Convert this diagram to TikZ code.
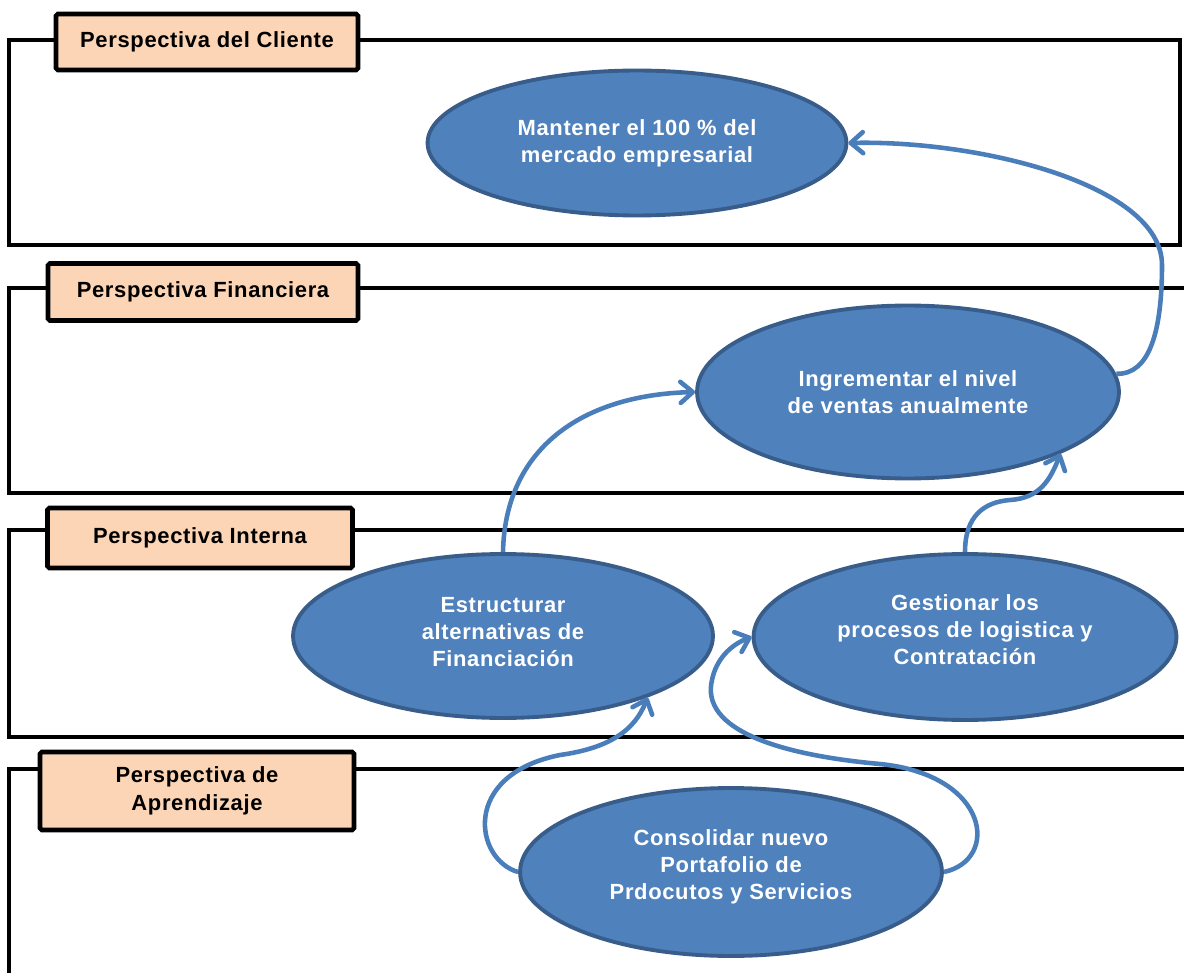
\documentclass[tikz,border=0pt]{standalone}
\usepackage{fontspec}
\setmainfont{Liberation Sans}[LetterSpace=3.0]
\usetikzlibrary{shapes.geometric,arrows.meta}

\definecolor{bscazul}{HTML}{4F81BD}
\definecolor{bscborde}{HTML}{385D8A}
\definecolor{bscflecha}{HTML}{4A7EBB}
\definecolor{bscmelon}{HTML}{FBD5B5}

\tikzset{
  marco/.style={line width=2.8pt},
  etiqueta/.style={draw=black,line width=2.6pt,fill=bscmelon,rounded corners=1pt,
    align=center,inner sep=0pt,font=\fontsize{12.5}{15.6}\selectfont\bfseries},
  objetivo/.style={ellipse,draw=bscborde,line width=2.2pt,fill=bscazul,text=white,
    align=center,inner sep=0pt,font=\fontsize{12.5}{15.4}\selectfont\bfseries},
  flujo/.style={bscflecha,line width=2.6pt,->,
    >={Straight Barb[length=7pt,width=12pt,round]}}
}

\begin{document}
\begin{tikzpicture}[x=0.02cm,y=-0.02cm]

  \useasboundingbox (0,0) rectangle (1184,973);
  \clip (0,0) rectangle (1184,973);

  % marcos
  \draw[marco] (9,40) rectangle (1180,245);
  \draw[marco] (1200,288) -- (9,288) -- (9,493) -- (1200,493);
  \draw[marco] (1200,530) -- (9,530) -- (9,737) -- (1200,737);
  \draw[marco] (1200,769) -- (9,769) -- (9,990);

  % etiquetas
  \node[etiqueta,minimum width=6.04cm,minimum height=1.12cm] (cliente) at (207,42)
    {Perspectiva del Cliente};
  \node[etiqueta,minimum width=6.2cm,minimum height=1.14cm] (financiera) at (203,292)
    {Perspectiva Financiera};
  \node[etiqueta,minimum width=6.1cm,minimum height=1.2cm] (interna) at (200,538)
    {Perspectiva Interna};
  \node[etiqueta,minimum width=6.28cm,minimum height=1.56cm] (aprendizaje) at (197,791)
    {Perspectiva de\\Aprendizaje};

  % objetivos
  \node[objetivo,minimum width=8.38cm,minimum height=2.9cm] (e1) at (637,143)
    {Mantener el 100 \% del\\mercado empresarial};
  \node[objetivo,minimum width=8.44cm,minimum height=3.46cm] (e2) at (908,392)
    {Ingrementar el nivel\\de ventas anualmente};
  \node[objetivo,minimum width=8.4cm,minimum height=3.28cm,text depth=5pt] (e3) at (503,636)
    {Estructurar\\alternativas de\\Financiación};
  \node[objetivo,minimum width=8.46cm,minimum height=3.32cm,text depth=8pt] (e4) at (965,637)
    {Gestionar los\\procesos de logistica y\\Contratación};
  \node[objetivo,minimum width=8.44cm,minimum height=3.36cm,text depth=8pt] (e5) at (731,872)
    {Consolidar nuevo\\Portafolio de\\Prdocutos y Servicios};

  % relaciones causa-efecto
  \draw[flujo] (e2.5) .. controls (1150,375) and (1162,330) .. (1162,265)
    .. controls (1162,185) and (980,140) .. (e1.east);
  \draw[flujo] (e3.north) .. controls (505,450) and (580,395) .. (e2.west);
  \draw[flujo] (e4.north) .. controls (965,515) and (985,502) .. (1010,500)
    .. controls (1040,498) and (1050,480) .. (e2.-22);
  \draw[flujo] (e5.west) .. controls (475,860) and (460,775) .. (560,755)
    .. controls (610,748) and (635,730) .. (e3.-23);
  \draw[flujo] (e5.east) .. controls (1000,860) and (990,775) .. (880,764)
    .. controls (780,755) and (700,730) .. (712,680)
    .. controls (716,660) and (730,645) .. (e4.west);

\end{tikzpicture}
\end{document}
